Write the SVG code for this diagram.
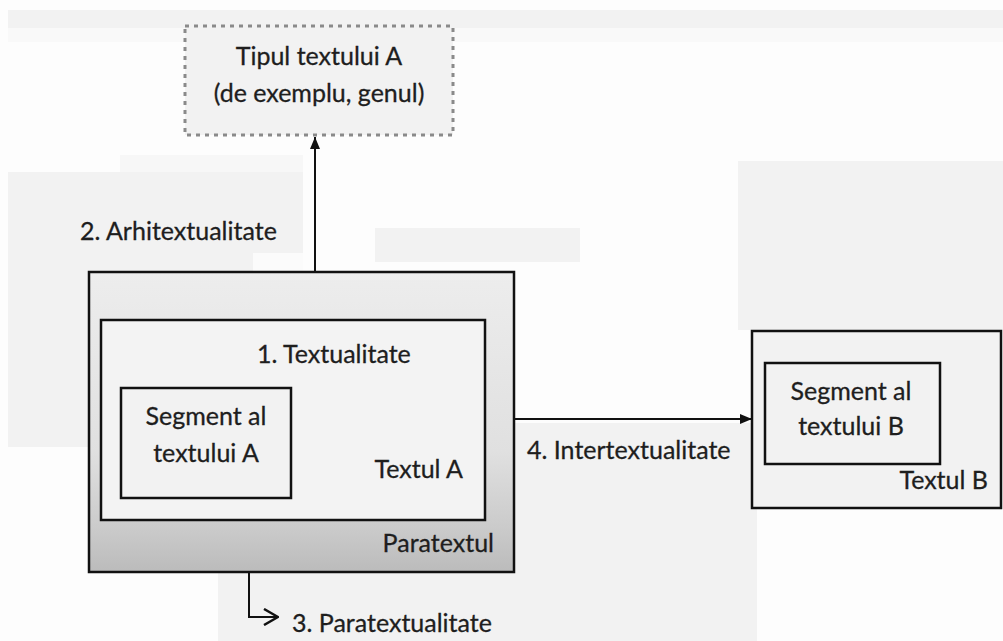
<svg xmlns="http://www.w3.org/2000/svg" width="1003" height="641" viewBox="0 0 1003 641">
  <style>
    .lbl { font-family: Lato, "Liberation Sans", sans-serif; font-size: 25px; fill: #1e1e1e; stroke: #1e1e1e; stroke-width: 0.3; }
    .mid { text-anchor: middle; }
    .end { text-anchor: end; }
    .box { stroke: #111; stroke-width: 2.5; }
    .wire { fill: none; stroke: #111; stroke-width: 2; }
    .patch { fill: #f2f2f2; }
  </style>
  <defs>
    <linearGradient id="paraFill" x1="0" y1="0" x2="0" y2="1">
      <stop offset="0" stop-color="#ededed"/>
      <stop offset="0.6" stop-color="#e0e0e0"/>
      <stop offset="0.85" stop-color="#cbcbcb"/>
      <stop offset="1" stop-color="#bbbbbb"/>
    </linearGradient>
    <marker id="solidHead" viewBox="0 0 12 10" refX="12" refY="5" markerWidth="12" markerHeight="10" markerUnits="userSpaceOnUse" orient="auto">
      <path d="M0,0 L12,5 L0,10 Z" fill="#111"/>
    </marker>
    <marker id="openHead" viewBox="0 0 16 18" refX="15" refY="9" markerWidth="16" markerHeight="18" markerUnits="userSpaceOnUse" orient="auto">
      <path d="M1,1 L15,9 L1,17" fill="none" stroke="#111" stroke-width="2.5"/>
    </marker>
  </defs>

  <!-- page background with light panels -->
  <rect x="0" y="0" width="1003" height="641" fill="#fdfdfd"/>
  <rect x="8" y="10" width="995" height="18" class="patch"/>
  <rect x="8" y="28" width="995" height="14" fill="#f9f9f9"/>
  <rect x="120" y="155" width="183" height="17" fill="#f7f7f7"/>
  <rect x="8" y="172" width="295" height="275" class="patch"/>
  <rect x="253" y="253" width="50" height="18" fill="#fbfbfb"/>
  <rect x="375" y="228" width="205" height="34" class="patch"/>
  <rect x="738" y="161" width="265" height="169" class="patch"/>
  <rect x="218" y="572" width="539" height="69" class="patch"/>
  <rect x="514" y="423" width="243" height="149" class="patch"/>

  <!-- genre node -->
  <g id="genre">
    <rect x="185" y="26" width="268" height="109" fill="#f2f2f2" stroke="#8a8a8a" stroke-width="3" stroke-dasharray="4 5"/>
    <text class="lbl mid" x="319" y="65">Tipul textului A</text>
    <text class="lbl mid" x="319" y="102">(de exemplu, genul)</text>
  </g>

  <!-- paratext frame around text A -->
  <g id="paratext">
    <rect x="89" y="272" width="425" height="300" fill="url(#paraFill)" class="box"/>
    <text class="lbl end" x="494" y="552">Paratextul</text>
  </g>

  <!-- text A -->
  <g id="textA">
    <rect x="101" y="320" width="384" height="200" fill="#f3f3f3" class="box"/>
    <text class="lbl" x="257" y="363">1. Textualitate</text>
    <text class="lbl end" x="463" y="478">Textul A</text>
  </g>

  <!-- segment of text A -->
  <g id="segmentA">
    <rect x="121" y="388" width="170" height="110" fill="#f2f2f2" class="box"/>
    <text class="lbl mid" x="206" y="425">Segment al</text>
    <text class="lbl mid" x="206" y="462">textului A</text>
  </g>

  <!-- text B -->
  <g id="textB">
    <rect x="752" y="331" width="249" height="177" fill="#f2f2f2" class="box"/>
    <text class="lbl end" x="988" y="489">Textul B</text>
  </g>

  <!-- segment of text B -->
  <g id="segmentB">
    <rect x="765" y="363" width="175" height="101" fill="#f2f2f2" class="box"/>
    <text class="lbl mid" x="851" y="400">Segment al</text>
    <text class="lbl mid" x="851" y="435">textului B</text>
  </g>

  <!-- relations -->
  <g id="connectors">
    <line class="wire" x1="315" y1="271" x2="315" y2="137" marker-end="url(#solidHead)"/>
    <text class="lbl" x="80" y="240">2. Arhitextualitate</text>
    <path class="wire" d="M249,573 V617 H278" marker-end="url(#openHead)"/>
    <text class="lbl" x="292" y="632">3. Paratextualitate</text>
    <line class="wire" x1="515" y1="419" x2="752" y2="419" marker-end="url(#solidHead)"/>
    <text class="lbl" x="527" y="459">4. Intertextualitate</text>
  </g>
</svg>
